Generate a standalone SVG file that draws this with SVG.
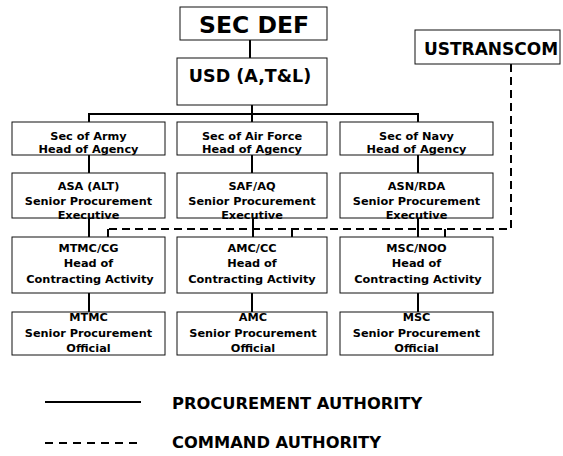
<svg xmlns="http://www.w3.org/2000/svg" width="563" height="456" viewBox="0 0 563 456">
<style>
.box{fill:#fff;stroke:#111;stroke-width:1}
.t{font-family:"DejaVu Sans","Liberation Sans",sans-serif;font-weight:bold;font-size:11.3px;text-anchor:middle;fill:#000}
.big{font-family:"DejaVu Sans","Liberation Sans",sans-serif;font-weight:bold;text-anchor:middle;fill:#000}
.leg{font-family:"DejaVu Sans","Liberation Sans",sans-serif;font-weight:bold;font-size:16.3px;fill:#000}
.solid{fill:none;stroke:#000;stroke-width:2}
.dash{fill:none;stroke:#000;stroke-width:2;stroke-dasharray:8 5}
</style>
<rect width="563" height="456" fill="#fff"/>
<g id="connectors">
<path class="solid" d="M250 40V58"/>
<path class="solid" d="M252 105V114M89 122V114H418V122M252 114V122"/>
<path class="solid" d="M89 155V173M252 155V173M418 155V173"/>
<path class="solid" d="M89 218V237M253 218V237M418 218V237"/>
<path class="solid" d="M89 293V312M252 293V312M418 293V312"/>
<path class="dash" d="M511 64V229H108"/>
<path class="dash" d="M108 229V237"/>
<path class="dash" d="M292 229V237"/>
<path class="dash" d="M445 229V237"/>
</g>
<g id="secdef"><rect class="box" x="180" y="7" width="147" height="33"/><text class="big" x="254" y="33" font-size="23.5">SEC DEF</text></g>
<g id="usd"><rect class="box" x="177" y="58" width="150" height="47"/><text class="big" x="250" y="82" font-size="17.5">USD (A,T&amp;L)</text></g>
<g id="ustranscom"><rect class="box" x="415" y="30" width="145" height="34"/><text class="big" x="491" y="55" font-size="17">USTRANSCOM</text></g>

<g id="sec-army"><rect class="box" x="12" y="122" width="153" height="33"/><text class="t" x="88.5" y="140">Sec of Army</text><text class="t" x="88.5" y="153">Head of Agency</text></g>
<g id="sec-airforce"><rect class="box" x="177" y="122" width="150" height="33"/><text class="t" x="252" y="140">Sec of Air Force</text><text class="t" x="252" y="153">Head of Agency</text></g>
<g id="sec-navy"><rect class="box" x="340" y="122" width="153" height="33"/><text class="t" x="416.5" y="140">Sec of Navy</text><text class="t" x="416.5" y="153">Head of Agency</text></g>

<g id="asa-alt"><rect class="box" x="12" y="173" width="153" height="45"/><text class="t" x="88.5" y="190">ASA (ALT)</text><text class="t" x="88.5" y="205">Senior Procurement</text><text class="t" x="88.5" y="219">Executive</text></g>
<g id="saf-aq"><rect class="box" x="177" y="173" width="150" height="45"/><text class="t" x="252" y="190">SAF/AQ</text><text class="t" x="252" y="205">Senior Procurement</text><text class="t" x="252" y="219">Executive</text></g>
<g id="asn-rda"><rect class="box" x="340" y="173" width="153" height="45"/><text class="t" x="416.5" y="190">ASN/RDA</text><text class="t" x="416.5" y="205">Senior Procurement</text><text class="t" x="416.5" y="219">Executive</text></g>

<g id="mtmc-cg"><rect class="box" x="12" y="237" width="153" height="56"/><text class="t" x="88.5" y="252">MTMC/CG</text><text class="t" x="88.5" y="267">Head of</text><text class="t" x="90" y="283">Contracting Activity</text></g>
<g id="amc-cc"><rect class="box" x="177" y="237" width="150" height="56"/><text class="t" x="252" y="252">AMC/CC</text><text class="t" x="252" y="267">Head of</text><text class="t" x="252" y="283">Contracting Activity</text></g>
<g id="msc-noo"><rect class="box" x="340" y="237" width="153" height="56"/><text class="t" x="416.5" y="252">MSC/NOO</text><text class="t" x="416.5" y="267">Head of</text><text class="t" x="418" y="283">Contracting Activity</text></g>

<g id="mtmc"><rect class="box" x="12" y="312" width="153" height="43"/><text class="t" x="88.5" y="321">MTMC</text><text class="t" x="88.5" y="337">Senior Procurement</text><text class="t" x="88.5" y="352">Official</text></g>
<g id="amc"><rect class="box" x="177" y="312" width="150" height="43"/><text class="t" x="253" y="321">AMC</text><text class="t" x="253" y="337">Senior Procurement</text><text class="t" x="253" y="352">Official</text></g>
<g id="msc"><rect class="box" x="340" y="312" width="153" height="43"/><text class="t" x="416.5" y="321">MSC</text><text class="t" x="416.5" y="337">Senior Procurement</text><text class="t" x="416.5" y="352">Official</text></g>

<g id="legend">
<path class="solid" d="M45 402H141"/>
<text class="leg" x="172" y="409">PROCUREMENT AUTHORITY</text>
<path class="dash" d="M45 443H141" style="stroke-dasharray:8 6"/>
<text class="leg" x="172" y="448">COMMAND AUTHORITY</text>
</g>
</svg>
